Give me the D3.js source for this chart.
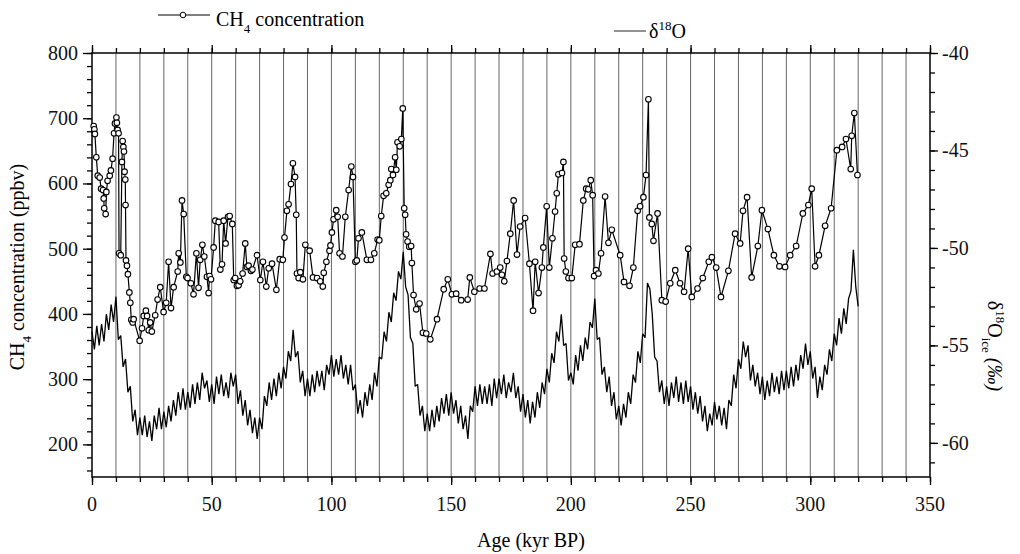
<!DOCTYPE html>
<html>
<head>
<meta charset="utf-8">
<script src="https://cdn.jsdelivr.net/npm/d3@7"></script>
<style>
body { margin: 0; background: #fff; }
svg text { font-family: "Liberation Serif", "Times New Roman", serif; }
</style>
</head>
<body>
<svg width="1020" height="554"></svg>
<script>
// CH4 readings: age (kyr BP) and concentration (ppbv)
const ch4Age = [0.7, 1.0, 1.2, 1.8, 2.4, 3.2, 3.8, 4.6, 4.9, 5.1, 5.7, 6.0, 6.5, 7.4, 7.9, 8.6, 9.2, 9.6, 10.2, 10.4,
  10.7, 11.1, 11.3, 12.0, 12.5, 12.8, 13.1, 13.35, 13.6, 13.9, 14.0, 14.2, 14.6, 15.0, 15.6, 16.0, 16.4, 17.0, 17.4, 19.9,
  20.9, 21.6, 22.5, 23.0, 23.7, 24.3, 25.0, 26.4, 27.4, 28.5, 29.9, 31.0, 32.0, 33.0, 34.1, 35.8, 36.2, 36.9, 37.6, 38.3,
  39.4, 39.9, 41.3, 42.4, 43.6, 44.5, 45.2, 46.1, 46.9, 48.0, 48.7, 49.1, 49.7, 50.8, 51.5, 52.9, 53.6, 54.3, 55.0, 55.8,
  56.8, 57.5, 58.6, 59.2, 59.8, 60.5, 61.2, 61.9, 62.9, 64.0, 64.7, 65.4, 66.4, 67.0, 68.9, 70.3, 71.4, 72.8, 73.8, 75.2,
  77.0, 78.4, 79.7, 80.4, 81.4, 82.1, 83.1, 83.9, 84.8, 85.3, 85.6, 86.3, 87.0, 88.1, 89.1, 90.9, 92.3, 94.0, 95.3, 96.4,
  96.8, 97.9, 99.2, 99.6, 100.2, 100.9, 102.0, 102.6, 103.4, 104.6, 105.8, 107.2, 108.3, 109.0, 110.0, 110.6, 111.3, 112.7, 114.8, 116.5,
  117.9, 119.3, 120.0, 120.8, 121.8, 122.9, 123.9, 124.6, 125.0, 125.7, 126.6, 127.1, 127.6, 128.5, 129.2, 129.8, 130.4, 130.8, 131.2, 131.8,
  132.5, 133.3, 133.6, 134.3, 135.4, 136.8, 138.2, 139.6, 141.3, 144.1, 146.9, 148.6, 150.3, 152.1, 154.2, 156.9, 157.8, 159.7, 161.9, 163.9,
  166.4, 167.3, 169.1, 170.5, 171.2, 172.2, 173.3, 174.7, 176.1, 177.5, 178.8, 180.9, 182.7, 184.2, 185.1, 186.5, 187.9, 188.5, 189.9, 191.0,
  192.3, 193.4, 194.1, 194.8, 196.3, 196.9, 197.2, 197.9, 199.0, 200.4, 201.8, 203.6, 205.2, 206.4, 207.3, 208.3, 209.1, 209.7, 210.5, 211.5,
  212.6, 214.3, 215.7, 217.1, 220.6, 222.2, 224.5, 226.1, 227.9, 228.9, 230.3, 231.4, 232.4, 232.8, 233.8, 234.5, 236.2, 238.0, 239.6, 241.5,
  243.6, 245.6, 247.3, 249.0, 250.5, 252.9, 255.1, 257.6, 258.9, 260.7, 262.7, 265.8, 268.6, 270.7, 271.9, 273.6, 275.5, 278.1, 279.8, 282.3,
  284.8, 287.1, 289.5, 291.6, 294.1, 296.9, 299.2, 300.6, 302.0, 303.6, 306.2, 308.7, 311.1, 313.3, 314.9, 316.9, 317.3, 318.4, 319.7];
const ch4Ppbv = [688, 683, 676, 640, 612, 609, 592, 590, 577, 562, 553, 587, 604, 612, 620, 638, 677, 692, 701, 693,
  682, 677, 493, 490, 633, 665, 656, 649, 618, 606, 567, 482, 474, 461, 433, 417, 391, 387, 392, 359,
  378, 397, 405, 397, 375, 387, 373, 398, 422, 441, 403, 417, 480, 409, 441, 465, 493, 479, 574, 553,
  457, 455, 447, 430, 493, 440, 483, 506, 488, 457, 432, 458, 453, 502, 543, 541, 468, 476, 543, 508,
  549, 550, 538, 452, 455, 443, 444, 450, 462, 508, 472, 474, 466, 468, 490, 452, 480, 442, 470, 477,
  437, 484, 483, 517, 558, 568, 599, 631, 610, 552, 462, 455, 464, 453, 506, 497, 456, 455, 450, 442,
  463, 480, 497, 505, 525, 545, 559, 549, 493, 488, 549, 590, 626, 610, 480, 482, 516, 525, 483, 483,
  493, 514, 513, 550, 581, 585, 598, 605, 622, 613, 640, 621, 663, 657, 668, 715, 562, 552, 522, 511,
  503, 504, 478, 429, 407, 416, 371, 370, 361, 392, 438, 453, 430, 431, 421, 422, 456, 434, 439, 439,
  492, 462, 465, 471, 460, 450, 481, 523, 574, 491, 534, 547, 477, 405, 480, 432, 471, 502, 565, 471,
  516, 557, 585, 614, 616, 633, 485, 465, 455, 455, 506, 507, 574, 592, 591, 605, 582, 458, 467, 462,
  493, 580, 509, 529, 490, 449, 443, 471, 558, 565, 579, 613, 729, 548, 538, 512, 554, 421, 419, 447,
  467, 447, 434, 500, 426, 439, 455, 480, 487, 471, 426, 466, 523, 508, 558, 579, 456, 504, 559, 530,
  490, 473, 472, 490, 504, 554, 567, 592, 473, 490, 535, 562, 651, 656, 668, 622, 673, 708, 613];

// d18O ice (per mil): one reading per kyr from 0 to 320 kyr BP,
// taken alternately at the top and the bottom of the noisy trace
const d18oStep = 1;
const d18oValues = [
  -54.3, -55.2, -54.0, -55.0, -53.9, -54.8, -53.4, -54.2, -52.9, -53.8,
  -52.5, -54.7, -54.5, -56.1, -55.7, -57.4, -57.1, -58.9, -58.3, -59.6,
  -58.7, -59.6, -58.6, -59.7, -58.9, -59.9, -58.6, -59.3, -58.2, -59.3,
  -58.4, -59.2, -58.1, -58.9, -57.8, -58.6, -57.4, -58.3, -57.2, -58.3,
  -57.4, -58.2, -57.0, -58.0, -56.9, -57.8, -56.4, -57.2, -56.8, -57.9,
  -57.0, -58.0, -56.6, -57.5, -56.5, -57.6, -56.9, -57.7, -56.4, -57.1,
  -56.5, -58.0, -57.3, -58.6, -57.8, -59.1, -58.3, -59.5, -58.7, -59.8,
  -58.7, -59.3, -57.6, -58.1, -56.9, -57.8, -56.7, -57.6, -56.4, -57.2,
  -56.1, -56.7, -55.3, -55.8, -54.2, -55.6, -55.3, -56.9, -56.3, -57.6,
  -56.7, -57.6, -56.5, -57.4, -56.3, -57.1, -56.3, -57.3, -56.0, -56.5,
  -55.5, -56.6, -55.7, -56.5, -55.5, -56.7, -56.0, -57.0, -56.0, -57.3,
  -57.0, -58.5, -57.8, -58.7, -57.4, -58.1, -57.0, -57.8, -56.4, -57.1,
  -55.6, -55.7, -54.3, -54.8, -53.3, -53.8, -52.3, -52.7, -51.2, -51.6,
  -50.2, -52.0, -52.4, -54.6, -54.9, -57.1, -57.0, -58.6, -58.1, -59.4,
  -58.5, -59.4, -58.3, -59.2, -58.1, -58.9, -57.7, -58.5, -57.5, -58.6,
  -57.4, -58.5, -57.8, -59.0, -58.1, -59.3, -58.6, -59.8, -58.1, -58.4,
  -57.1, -58.1, -57.0, -58.0, -57.1, -58.0, -57.0, -58.1, -56.7, -57.7,
  -56.7, -57.5, -56.5, -57.7, -56.9, -57.4, -56.4, -57.7, -57.1, -58.4,
  -57.5, -58.7, -57.8, -59.0, -57.9, -58.7, -57.4, -58.2, -56.9, -57.5,
  -56.2, -56.9, -55.4, -55.9, -54.3, -54.8, -53.4, -55.0, -54.9, -56.8,
  -56.4, -57.0, -55.5, -56.3, -55.0, -55.8, -54.6, -55.2, -53.8, -54.1,
  -52.6, -54.7, -54.6, -56.5, -56.1, -57.4, -56.6, -58.1, -57.4, -58.8,
  -58.1, -59.1, -58.0, -58.7, -57.4, -58.0, -56.5, -56.9, -55.3, -55.9,
  -54.4, -54.6, -51.8, -52.1, -53.4, -55.6, -55.8, -57.4, -56.8, -58.0,
  -57.1, -58.1, -56.9, -57.7, -56.6, -57.9, -56.9, -58.0, -56.8, -57.9,
  -57.1, -58.3, -57.4, -58.5, -57.6, -58.9, -58.1, -59.4, -58.5, -59.1,
  -57.9, -58.8, -58.1, -59.1, -58.2, -59.3, -57.8, -58.1, -56.5, -57.2,
  -55.7, -56.2, -54.8, -55.6, -55.0, -56.8, -56.0, -57.1, -56.4, -57.5,
  -56.6, -57.8, -56.8, -57.6, -56.4, -57.4, -56.6, -57.5, -56.3, -57.3,
  -56.3, -57.2, -56.1, -57.1, -56.0, -56.8, -55.5, -56.2, -54.9, -56.0,
  -55.3, -56.7, -56.1, -57.7, -56.6, -57.3, -56.0, -56.5, -55.2, -55.8,
  -54.4, -55.0, -53.6, -54.4, -53.1, -53.9, -52.6, -52.2, -50.1, -52.0,
  -53.0];

const ageTicks = [0, 50, 100, 150, 200, 250, 300, 350];
const ch4Ticks = [200, 300, 400, 500, 600, 700, 800];
const d18oTicks = [-60, -55, -50, -45, -40];

const svg = d3.select('svg');
const margin = { top: 53, right: 90, bottom: 77, left: 92 };
const innerWidth = 1020 - margin.left - margin.right;
const innerHeight = 554 - margin.top - margin.bottom;

const g = svg.append('g')
  .attr('transform', `translate(${margin.left}, ${margin.top})`);

const xScale = d3.scaleLinear().domain([0, 350]).range([0, innerWidth]);
const yLeft = d3.scaleLinear().domain([150, 800]).range([innerHeight, 0]);
const yRight = d3.scaleLinear().domain([-61.75, -40]).range([innerHeight, 0]);

// vertical lines every 10 kyr
g.append('g').selectAll('line')
  .data(d3.range(10, 350, 10))
  .join('line')
  .attr('x1', d => xScale(d)).attr('x2', d => xScale(d))
  .attr('y1', 0).attr('y2', innerHeight)
  .attr('stroke', '#666')
  .attr('stroke-width', 1);

// axes: tick marks only, the labels are written separately in the serif face
const minorAge = d3.range(0, 351, 10);
const minorCh4 = d3.range(160, 801, 20);
const minorD18 = d3.range(-61, -39, 1);

const addTicks = (axis, transform) => {
  const ax = g.append('g').attr('transform', transform).call(axis.tickFormat(''));
  ax.select('.domain').remove();
  ax.selectAll('.tick text').remove();
  ax.selectAll('.tick line').attr('stroke', '#000').attr('stroke-width', 1.3);
  return ax;
};

addTicks(d3.axisBottom(xScale).tickValues(minorAge).tickSize(5), `translate(0, ${innerHeight})`);
addTicks(d3.axisBottom(xScale).tickValues(ageTicks).tickSize(8), `translate(0, ${innerHeight})`);
addTicks(d3.axisTop(xScale).tickValues(minorAge).tickSize(5), 'translate(0, 0)');
addTicks(d3.axisTop(xScale).tickValues(ageTicks).tickSize(8), 'translate(0, 0)');
addTicks(d3.axisLeft(yLeft).tickValues(minorCh4).tickSize(5), 'translate(0, 0)');
addTicks(d3.axisLeft(yLeft).tickValues(ch4Ticks).tickSize(9), 'translate(0, 0)');
addTicks(d3.axisRight(yRight).tickValues(minorD18).tickSize(5), `translate(${innerWidth}, 0)`);
addTicks(d3.axisRight(yRight).tickValues(d18oTicks).tickSize(8), `translate(${innerWidth}, 0)`);

// tick labels, placed in page coordinates
const labels = svg.append('g')
  .attr('font-family', 'Liberation Serif, serif')
  .attr('font-size', 20)
  .attr('fill', '#111');

labels.append('g').selectAll('text')
  .data(ageTicks)
  .join('text')
  .attr('x', d => margin.left + xScale(d))
  .attr('y', margin.top + innerHeight + 34)
  .attr('text-anchor', 'middle')
  .text(d => String(d));

labels.append('g').selectAll('text')
  .data(ch4Ticks)
  .join('text')
  .attr('x', margin.left - 14)
  .attr('y', d => margin.top + yLeft(d) + 7)
  .attr('text-anchor', 'end')
  .text(d => String(d));

labels.append('g').selectAll('text')
  .data(d18oTicks)
  .join('text')
  .attr('x', margin.left + innerWidth + 12)
  .attr('y', d => margin.top + yRight(d) + 7)
  .attr('text-anchor', 'start')
  .text(d => String(d));

// frame
g.append('rect')
  .attr('width', innerWidth).attr('height', innerHeight)
  .attr('fill', 'none')
  .attr('stroke', '#000')
  .attr('stroke-width', 1.5);

// d18O trace
const d18oLine = d3.line()
  .x((d, i) => xScale(i * d18oStep))
  .y(d => yRight(d));

g.append('path')
  .attr('d', d18oLine(d18oValues))
  .attr('fill', 'none')
  .attr('stroke', '#000')
  .attr('stroke-width', 1.3)
  .attr('stroke-linejoin', 'bevel');

// CH4 line with open circles
const ch4Data = ch4Age.map((a, i) => ({ age: a, ppbv: ch4Ppbv[i] }));
const ch4Line = d3.line()
  .x(d => xScale(d.age))
  .y(d => yLeft(d.ppbv));

g.append('path')
  .attr('d', ch4Line(ch4Data))
  .attr('fill', 'none')
  .attr('stroke', '#000')
  .attr('stroke-width', 1.2);

g.append('g').selectAll('circle')
  .data(ch4Data)
  .join('circle')
  .attr('cx', d => xScale(d.age))
  .attr('cy', d => yLeft(d.ppbv))
  .attr('r', 2.8)
  .attr('fill', '#fff')
  .attr('stroke', '#000')
  .attr('stroke-width', 1.1);

// axis titles
svg.append('text')
  .attr('x', margin.left + innerWidth / 2 + 20)
  .attr('y', 547)
  .attr('text-anchor', 'middle')
  .attr('font-size', 20)
  .text('Age (kyr BP)');

const leftTitle = svg.append('text')
  .attr('transform', 'translate(24, 267) rotate(-90)')
  .attr('text-anchor', 'middle')
  .attr('font-size', 20);
leftTitle.append('tspan').text('CH');
leftTitle.append('tspan').attr('dy', 7).attr('font-size', 13).text('4');
leftTitle.append('tspan').attr('dy', -7).text(' concentration (ppbv)');

const rightTitle = svg.append('text')
  .attr('transform', 'translate(988, 346) rotate(90)')
  .attr('text-anchor', 'middle')
  .attr('font-size', 20);
rightTitle.append('tspan').text('δ');
rightTitle.append('tspan').attr('dy', -8).attr('font-size', 13).text('18');
rightTitle.append('tspan').attr('dy', 8).text('O');
rightTitle.append('tspan').attr('dy', 6).attr('font-size', 13).text('ice');
rightTitle.append('tspan').attr('dy', -6).attr('font-style', 'italic').text(' (‰)');

// legend
const legend = svg.append('g');
legend.append('line')
  .attr('x1', 158).attr('x2', 210).attr('y1', 15).attr('y2', 15)
  .attr('stroke', '#000').attr('stroke-width', 1.1);
legend.append('circle')
  .attr('cx', 183).attr('cy', 15).attr('r', 2.8)
  .attr('fill', '#fff').attr('stroke', '#000');
const ch4Label = legend.append('text')
  .attr('x', 216).attr('y', 26)
  .attr('font-size', 20);
ch4Label.append('tspan').text('CH');
ch4Label.append('tspan').attr('dy', 7).attr('font-size', 13).text('4');
ch4Label.append('tspan').attr('dy', -7).text(' concentration');

legend.append('line')
  .attr('x1', 614).attr('x2', 646).attr('y1', 31).attr('y2', 31)
  .attr('stroke', '#111').attr('stroke-width', 0.9);
const d18Label = legend.append('text')
  .attr('x', 649).attr('y', 38)
  .attr('font-size', 20);
d18Label.append('tspan').text('δ');
d18Label.append('tspan').attr('dy', -8).attr('font-size', 13).text('18');
d18Label.append('tspan').attr('dy', 8).text('O');
</script>
</body>
</html>
